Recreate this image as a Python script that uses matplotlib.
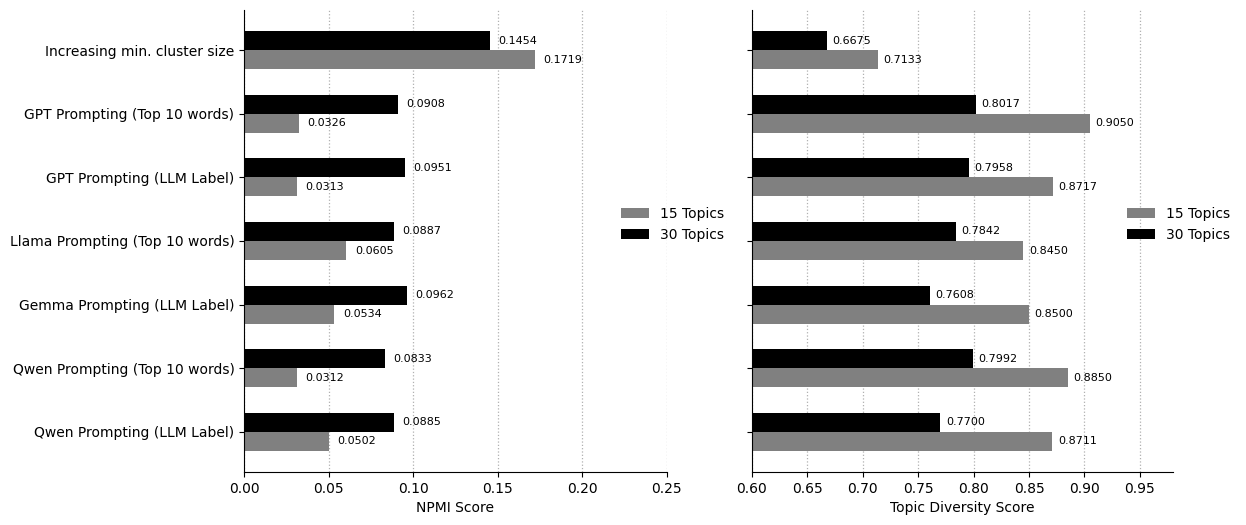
import numpy as np
import matplotlib
matplotlib.use('Agg')
import matplotlib.pyplot as plt

methods = [
    'Increasing min. cluster size',
    'GPT Prompting (Top 10 words)',
    'GPT Prompting (LLM Label)',
    'Llama Prompting (Top 10 words)',
    'Gemma Prompting (LLM Label)',
    'Qwen Prompting (Top 10 words)',
    'Qwen Prompting (LLM Label)',
]

npmi_15 = [0.1719, 0.0326, 0.0313, 0.0605, 0.0534, 0.0312, 0.0502]
npmi_30 = [0.1454, 0.0908, 0.0951, 0.0887, 0.0962, 0.0833, 0.0885]
td_15 = [0.7133, 0.9050, 0.8717, 0.8450, 0.8500, 0.8850, 0.8711]
td_30 = [0.6675, 0.8017, 0.7958, 0.7842, 0.7608, 0.7992, 0.7700]

fig = plt.figure(figsize=(12.46, 5.25), dpi=100)
ax1 = fig.add_axes([0.196, 0.101, 0.339, 0.880])
ax2 = fig.add_axes([0.6035, 0.101, 0.338, 0.880])

y = np.arange(len(methods))
h = 0.3


def draw(ax, v15, v30, xlim, xlabel, ticks, show_labels):
    b15 = ax.barh(y + h / 2, v15, height=h, color='gray', label='15 Topics')
    b30 = ax.barh(y - h / 2, v30, height=h, color='black', label='30 Topics')
    for bars, vals in ((b15, v15), (b30, v30)):
        for bar, v in zip(bars, vals):
            ax.text(v + 0.005, bar.get_y() + bar.get_height() / 2, f'{v:.4f}',
                    va='center', ha='left', fontsize=8)
    ax.set_yticks(y)
    if show_labels:
        ax.set_yticklabels(methods)
    else:
        ax.set_yticklabels([])
    ax.invert_yaxis()
    ax.set_xlim(*xlim)
    ax.set_xticks(ticks)
    ax.set_xlabel(xlabel)
    ax.grid(axis='x', linestyle=':', color='#b0b0b0', linewidth=0.9)
    ax.set_axisbelow(True)
    ax.spines['top'].set_visible(False)
    ax.spines['right'].set_visible(False)
    ax.legend(loc='center left', bbox_to_anchor=(0.862, 0.536), frameon=False)


draw(ax1, npmi_15, npmi_30, (0, 0.25), 'NPMI Score',
     [0, 0.05, 0.10, 0.15, 0.20, 0.25], True)
ax1.set_xticklabels(['0.00', '0.05', '0.10', '0.15', '0.20', '0.25'])
draw(ax2, td_15, td_30, (0.6, 0.98), 'Topic Diversity Score',
     [0.60, 0.65, 0.70, 0.75, 0.80, 0.85, 0.90, 0.95], False)
ax2.set_xticklabels(['0.60', '0.65', '0.70', '0.75', '0.80', '0.85', '0.90', '0.95'])

fig.savefig('out.png', dpi=100)
